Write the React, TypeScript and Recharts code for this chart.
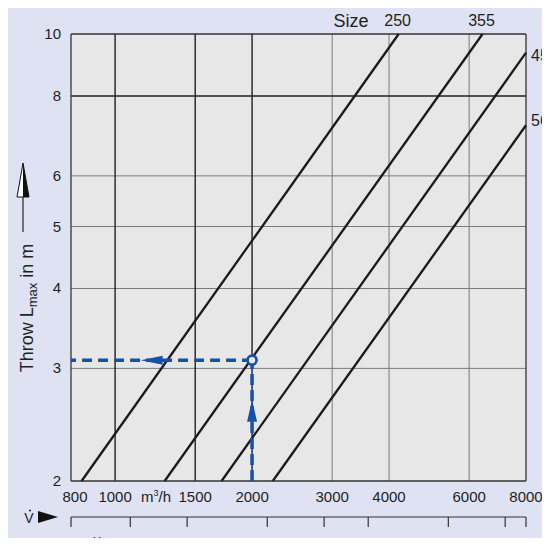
import { ComposedChart, Line, Scatter, XAxis, YAxis, CartesianGrid } from 'recharts'

// throw lines per size, read as end points (straight on log-log paper)
const size250 = [{ v: 844, l: 2 }, { v: 4200, l: 10 }]
const size355 = [{ v: 1285, l: 2 }, { v: 6420, l: 10 }]
const size450 = [{ v: 1714, l: 2 }, { v: 8000, l: 9.35 }]
const size560 = [{ v: 2221, l: 2 }, { v: 8000, l: 7.2 }]

const flowTicks = [800, 1000, 1500, 2000, 3000, 4000, 6000, 8000]
const litreTicks = [300, 400, 600, 800, 1000, 1500, 2000]
const throwTicks = [2, 3, 4, 5, 6, 8, 10]

const gridFlowMajor = [1000, 1500, 2000]
const gridFlowMinor = [3000, 4000, 6000]
const gridThrowMajor = [8]
const gridThrowMinor = [3, 4, 5, 6]

// worked example: 2000 m³/h -> about 3.1 m
const exampleUp = [{ v: 2000, l: 2 }, { v: 2000, l: 3.09 }]
const exampleLeft = [{ v: 2000, l: 3.09 }, { v: 800, l: 3.09 }]
const examplePoint = [{ v: 2000, l: 3.09 }]
const exampleArrows = [{ v: 2000, l: 2.68, dir: 'up' }, { v: 1138, l: 3.09, dir: 'left' }]

const FONT = '"Liberation Sans", Arial, sans-serif'
const INK = '#1f1f1f'
const BLUE = '#1552a8'
const PLOT_BG = '#e7e7e8'
const PAGE_BG = '#dee2f2'
const FLOW_MIN = 800
const FLOW_MAX = 8000
const LS_MIN = FLOW_MIN / 3.6
const LS_MAX = FLOW_MAX / 3.6

// invisible series so the l/s scale gets a domain
const litreSpan = [{ v: LS_MIN, l: 2 }, { v: LS_MAX, l: 2 }]

const series = [
  { name: '250', data: size250, place: 'top', dy: 0 },
  { name: '355', data: size355, place: 'top', dy: 0 },
  { name: '450', data: size450, place: 'side', dy: 8 },
  { name: '560', data: size560, place: 'side', dy: 1 },
]

const endLabel = (name: string, place: string, dy: number) => (p: any) => {
  if (p.index !== 1) return null
  if (place === 'top')
    return (
      <text x={p.x - 1} y={p.y - 8} textAnchor="middle" fontSize={16} fill={INK} fontFamily={FONT}>
        {name}
      </text>
    )
  return (
    <text x={p.x + 5} y={p.y + dy} textAnchor="start" fontSize={16} fill={INK} fontFamily={FONT}>
      {name}
    </text>
  )
}

const FlowTick = ({ x, y, payload }: any) => (
  <g>
    <text x={payload.value === 800 ? x + 4 : x} y={y + 21} textAnchor="middle" fontSize={15} fill={INK} fontFamily={FONT}>
      {payload.value}
    </text>
    {payload.value === 1000 && (
      <text x={x + 41} y={y + 21} textAnchor="middle" fontSize={15} fill={INK} fontFamily={FONT}>
        m<tspan dy={-6} fontSize={9}>3</tspan>
        <tspan dy={6}>/h</tspan>
      </text>
    )}
  </g>
)

const LitreTick = ({ x, y, payload }: any) => {
  if (!litreTicks.includes(payload.value)) return <g />
  return (
    <g>
      <text x={x} y={y + 21} textAnchor="middle" fontSize={15} fill={INK} fontFamily={FONT}>
        {payload.value}
      </text>
      {payload.value === 300 && (
        <text x={x - 30} y={y + 21} textAnchor="middle" fontSize={15} fill={INK} fontFamily={FONT}>
          l/s
        </text>
      )}
    </g>
  )
}

const ThrowTick = ({ x, y, payload }: any) => (
  <text x={x} y={y + 5} textAnchor="end" fontSize={15} fill={INK} fontFamily={FONT}>
    {payload.value}
  </text>
)

const ArrowShape = (props: any) => {
  const { cx, cy, payload } = props
  if (payload.dir === 'up')
    return <polygon points={`${cx},${cy} ${cx - 5},${cy + 22} ${cx + 5},${cy + 22}`} fill={BLUE} />
  return <polygon points={`${cx},${cy} ${cx + 22},${cy - 4.5} ${cx + 22},${cy + 4.5}`} fill={BLUE} />
}

const RingShape = (props: any) => (
  <circle cx={props.cx} cy={props.cy} r={4.5} fill={PLOT_BG} stroke={BLUE} strokeWidth={2.7} />
)

export default function App() {
  return (
    <div style={{ margin: -8, width: 550, height: 546, background: PAGE_BG, position: 'relative', overflow: 'hidden' }}>
      <ComposedChart width={550} height={546} margin={{ top: 34, right: 24, bottom: 0, left: 0 }} style={{ overflow: 'visible' }}>
        <CartesianGrid fill={PLOT_BG} stroke="#7a7a7a" strokeWidth={1} verticalValues={gridFlowMinor} horizontalValues={gridThrowMinor} />
        <CartesianGrid fill="none" stroke="#222" strokeWidth={1.4} verticalValues={gridFlowMajor} horizontalValues={gridThrowMajor} />
        <CartesianGrid fill="none" stroke="#333" strokeWidth={1.3} verticalValues={[FLOW_MIN, FLOW_MAX]} horizontalValues={[2, 10]} />
        <XAxis
          dataKey="v"
          type="number"
          scale="log"
          domain={[FLOW_MIN, FLOW_MAX]}
          ticks={flowTicks}
          interval={0}
          height={36}
          axisLine={false}
          tickLine={false}
          tickSize={0}
          tickMargin={0}
          tick={<FlowTick />}
        />
        <XAxis
          xAxisId="ls"
          dataKey="v"
          type="number"
          scale="log"
          domain={[LS_MIN, LS_MAX]}
          ticks={[LS_MIN, ...litreTicks, LS_MAX]}
          interval={0}
          height={29}
          axisLine={{ stroke: '#333', strokeWidth: 1.2 }}
          tickLine={{ stroke: '#333', strokeWidth: 1.2 }}
          tickSize={10}
          tickMargin={0}
          tick={<LitreTick />}
        />
        <YAxis
          dataKey="l"
          type="number"
          scale="log"
          domain={[2, 10]}
          ticks={throwTicks}
          interval={0}
          width={71}
          axisLine={false}
          tickLine={false}
          tickSize={0}
          tickMargin={10}
          tick={<ThrowTick />}
        />
        <Line xAxisId="ls" data={litreSpan} dataKey="l" stroke="none" dot={false} legendType="none" isAnimationActive={false} />
        {series.map((s) => (
          <Line
            key={s.name}
            data={s.data}
            dataKey="l"
            type="linear"
            stroke="#1a1a1a"
            strokeWidth={2.3}
            dot={false}
            label={endLabel(s.name, s.place, s.dy)}
            isAnimationActive={false}
          />
        ))}
        <Line data={exampleUp} dataKey="l" type="linear" stroke={BLUE} strokeWidth={3.5} strokeDasharray="11 5" dot={false} isAnimationActive={false} />
        <Line data={exampleLeft} dataKey="l" type="linear" stroke={BLUE} strokeWidth={3.5} strokeDasharray="10 6" dot={false} isAnimationActive={false} />
        <Scatter data={exampleArrows} dataKey="l" shape={ArrowShape} isAnimationActive={false} />
        <Scatter data={examplePoint} dataKey="l" shape={RingShape} isAnimationActive={false} />
      </ComposedChart>
      <svg width={550} height={546} style={{ position: 'absolute', left: 0, top: 0, pointerEvents: 'none' }} fontFamily={FONT}>
        <text x={351} y={27} textAnchor="middle" fontSize={18} fill={INK}>Size</text>
        <text transform="translate(33,308) rotate(-90)" textAnchor="middle" fontSize={18} fill={INK}>
          Throw L<tspan fontSize={13} dy={4}>max</tspan>
          <tspan dy={-4}> in m</tspan>
        </text>
        <line x1={23} y1={232} x2={23} y2={196} stroke="#333" strokeWidth={1.3} />
        <polygon points="23,163 17,197 29,197" fill="#fff" stroke="#111" strokeWidth={1} />
        <polygon points="23,163 23,197 29,197" fill="#111" />
        <text x={29} y={523} textAnchor="middle" fontSize={14} fill={INK}>V</text>
        <circle cx={30} cy={510.5} r={1} fill={INK} />
        <polygon points="38,511 38,523 58,517" fill="#111" />
      </svg>
    </div>
  )
}
